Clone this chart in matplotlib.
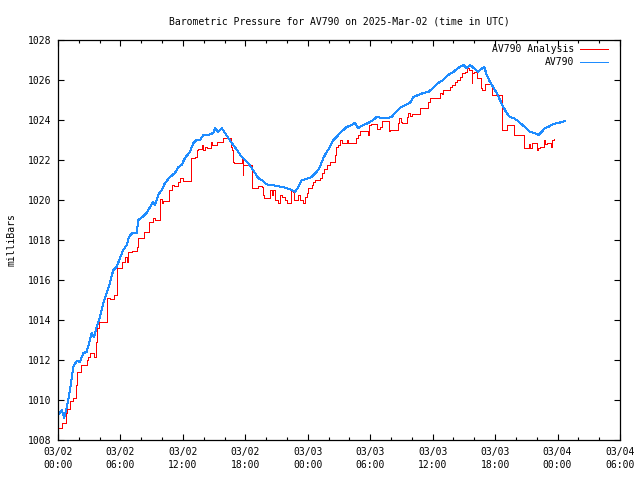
import matplotlib
matplotlib.use("Agg")
import matplotlib.pyplot as plt
from matplotlib.ticker import MultipleLocator

# ---- data (hours since 2025-03-02 00:00 UTC, pressure in mBar) ----
av790_t = [0.02, 0.35, 0.60, 0.93, 1.15, 1.47, 1.79, 2.11, 2.43, 2.75,
           3.07, 3.23, 3.48, 3.71, 4.03, 4.35, 4.68, 4.99, 5.31, 5.64,
           5.95, 6.27, 6.60, 6.82, 7.14, 7.56, 7.71, 8.10, 8.52, 8.84,
           9.15, 9.32, 9.63, 9.96, 10.28, 10.76, 11.24, 11.56, 11.88, 12.20,
           12.68, 13.00, 13.32, 13.64, 13.96, 14.44, 14.92, 15.08, 15.40, 15.73,
           16.04, 16.36, 16.69, 17.00, 17.32, 17.65, 17.96, 18.28, 18.61, 18.93,
           19.24, 19.57, 19.89, 20.20, 20.53, 21.01, 21.49, 21.97, 22.45, 22.77,
           23.09, 23.41, 23.89, 24.37, 24.85, 25.17, 25.49, 25.82, 26.13, 26.45,
           26.78, 27.09, 27.41, 27.74, 28.22, 28.53, 28.85, 29.33, 29.81, 30.29,
           30.62, 31.10, 31.58, 32.06, 32.38, 32.86, 33.34, 33.82, 34.14, 34.62,
           35.10, 35.58, 36.06, 36.54, 37.02, 37.50, 37.98, 38.46, 38.94, 39.27,
           39.58, 40.07, 40.38, 40.55, 40.96, 41.19, 41.51, 41.82, 42.15, 42.47,
           42.79, 43.11, 43.43, 43.75, 44.07, 44.39, 44.87, 45.35, 45.83, 46.15,
           46.47, 46.79, 47.11, 47.59, 48.07, 48.40, 48.71]
av790_p = [1009.25, 1009.5, 1009.1, 1009.85, 1010.5, 1011.65, 1011.95, 1011.9, 1012.35, 1012.4,
           1013.0, 1013.35, 1013.15, 1013.65, 1014.15, 1014.85, 1015.35, 1015.85, 1016.5, 1016.65,
           1017.1, 1017.5, 1017.75, 1018.15, 1018.35, 1018.35, 1019.0, 1019.15, 1019.35, 1019.65,
           1019.9, 1019.75, 1020.25, 1020.5, 1020.85, 1021.15, 1021.35, 1021.65, 1021.75, 1022.1,
           1022.4, 1022.85, 1023.0, 1023.0, 1023.25, 1023.25, 1023.35, 1023.6, 1023.4, 1023.6,
           1023.35, 1023.1, 1022.85, 1022.65, 1022.4, 1022.15, 1022.0, 1021.85, 1021.6, 1021.35,
           1021.1, 1021.0, 1020.85, 1020.75, 1020.75, 1020.7, 1020.65, 1020.6, 1020.5, 1020.4,
           1020.65, 1021.0, 1021.05, 1021.15, 1021.4, 1021.65, 1022.1, 1022.4, 1022.65, 1023.0,
           1023.15, 1023.35, 1023.5, 1023.65, 1023.75, 1023.85, 1023.6, 1023.75, 1023.85, 1024.0,
           1024.15, 1024.1, 1024.1, 1024.15, 1024.35, 1024.6, 1024.75, 1024.85, 1025.15, 1025.25,
           1025.35, 1025.4, 1025.6, 1025.85, 1026.0, 1026.25, 1026.4, 1026.6, 1026.75, 1026.6,
           1026.75, 1026.55, 1026.4, 1026.5, 1026.65, 1026.25, 1025.9, 1025.65, 1025.35, 1025.0,
           1024.65, 1024.35, 1024.15, 1024.1, 1024.0, 1023.85, 1023.65, 1023.4, 1023.35, 1023.25,
           1023.4, 1023.6, 1023.65, 1023.8, 1023.85, 1023.9, 1023.95]

analysis_t = [0.0, 0.35, 0.76, 0.90, 1.15, 1.44, 1.73, 1.79, 2.18, 2.78, 2.93, 3.07, 3.50, 3.65,
              3.71, 3.96, 4.68, 4.99, 5.41, 5.64, 6.12, 6.43, 6.60, 6.75, 7.08, 7.56, 7.71, 8.29,
              8.77, 9.15, 9.32, 9.80, 9.96, 10.13, 10.69, 10.92, 11.14, 11.56, 11.72, 12.01, 12.75,
              13.21, 13.32, 13.45, 13.80, 13.96, 14.12, 14.28, 14.67, 14.77, 15.25, 15.85, 16.59,
              16.69, 16.78, 16.91, 17.65, 17.74, 17.82, 18.68, 19.24, 19.57, 19.66, 19.79, 20.37,
              20.53, 20.65, 20.84, 21.11, 21.33, 21.52, 21.81, 21.97, 22.38, 22.58, 22.70, 23.09,
              23.25, 23.57, 23.73, 23.89, 24.05, 24.37, 24.53, 24.69, 25.17, 25.33, 25.59, 25.82,
              26.13, 26.61, 26.71, 26.93, 27.09, 27.25, 27.74, 27.84, 28.60, 28.85, 29.01, 29.81,
              29.88, 30.12, 30.62, 30.94, 31.10, 31.83, 31.90, 32.64, 32.79, 32.91, 33.02, 33.50,
              33.66, 33.82, 33.98, 34.78, 35.58, 35.74, 36.70, 36.85, 37.02, 37.66, 37.83, 38.14,
              38.36, 38.62, 38.79, 39.11, 39.27, 39.52, 39.75, 39.81, 39.97, 40.23, 40.64, 40.77,
              41.03, 41.72, 42.68, 43.11, 43.84, 44.80, 45.25, 45.35, 45.51, 45.99, 46.12, 46.31,
              46.72, 46.79, 46.95, 47.36, 47.49, 47.65]
analysis_p = [1008.6, 1008.85, 1009.35, 1009.55, 1009.95, 1010.1, 1010.75, 1011.4, 1011.75, 1012.0,
              1012.15, 1012.35, 1012.15, 1012.9, 1013.6, 1013.9, 1015.1, 1015.05, 1015.25, 1016.6,
              1016.9, 1017.15, 1016.9, 1017.4, 1017.45, 1017.65, 1018.1, 1018.4, 1018.9, 1019.1,
              1019.0, 1020.05, 1019.85, 1019.95, 1020.5, 1020.75, 1020.7, 1020.9, 1021.1, 1020.95,
              1022.1, 1022.15, 1022.5, 1022.55, 1022.75, 1022.5, 1022.65, 1022.6, 1022.9, 1022.75,
              1022.9, 1023.1, 1022.65, 1022.5, 1021.9, 1021.85, 1022.1, 1021.25, 1021.75, 1020.6,
              1020.7, 1020.65, 1020.25, 1020.1, 1020.5, 1020.25, 1020.5, 1020.0, 1019.85, 1020.25,
              1020.15, 1020.0, 1019.85, 1020.5, 1020.4, 1020.0, 1020.25, 1020.0, 1019.85, 1020.15,
              1020.35, 1020.6, 1020.75, 1020.9, 1021.0, 1021.1, 1021.35, 1021.55, 1021.75, 1021.9,
              1022.25, 1022.65, 1022.75, 1023.0, 1022.85, 1023.0, 1022.85, 1023.1, 1023.25, 1023.45,
              1023.25, 1023.75, 1023.8, 1023.55, 1023.65, 1023.95, 1023.45, 1023.5, 1023.85, 1024.1,
              1023.9, 1023.85, 1024.15, 1024.35, 1024.2, 1024.3, 1024.6, 1024.9, 1025.1, 1025.35,
              1025.3, 1025.5, 1025.65, 1025.75, 1025.9, 1026.0, 1026.15, 1026.35, 1026.4, 1026.6,
              1026.5, 1025.85, 1026.35, 1026.4, 1026.1, 1025.6, 1025.5, 1025.8, 1025.25, 1023.5,
              1023.75, 1023.25, 1022.6, 1022.8, 1022.6, 1022.85, 1022.5, 1022.6, 1022.65, 1023.0,
              1022.8, 1022.85, 1022.65, 1023.0, 1023.05]

tick_hours = [0, 6, 12, 18, 24, 30, 36, 42, 48, 54]
tick_labels = ["03/02\n00:00", "03/02\n06:00", "03/02\n12:00", "03/02\n18:00",
               "03/03\n00:00", "03/03\n06:00", "03/03\n12:00", "03/03\n18:00",
               "03/04\n00:00", "03/04\n06:00"]
y_ticks = [1008, 1010, 1012, 1014, 1016, 1018, 1020, 1022, 1024, 1026, 1028]

FONT = "DejaVu Sans Mono"
FS = 7

fig = plt.figure(figsize=(6.4, 4.8), dpi=100)
ax = fig.add_axes([58 / 640, 40 / 480, 562 / 640, 400 / 480])

ax.plot(analysis_t, analysis_p, color="#ff0000", lw=0.72, drawstyle="steps-post",
        antialiased=False, label="AV790 Analysis")
ax.plot(av790_t, av790_p, color="#1e8cff", lw=0.72, antialiased=False, label="AV790")

ax.set_xlim(0, 54)
ax.set_ylim(1008, 1028)
ax.set_xticks(tick_hours)
ax.set_xticklabels(tick_labels, fontfamily=FONT, fontsize=FS, linespacing=1.35)
ax.xaxis.set_minor_locator(MultipleLocator(2))
ax.set_yticks(y_ticks)
ax.set_yticklabels([str(v) for v in y_ticks], fontfamily=FONT, fontsize=FS)

ax.tick_params(which="both", direction="in", top=True, right=True, width=0.8, color="black")
ax.tick_params(which="major", length=4, pad=5)
ax.tick_params(which="minor", length=2.5)
for s in ax.spines.values():
    s.set_linewidth(0.9)
    s.set_color("black")

ax.set_ylabel("milliBars", fontfamily=FONT, fontsize=FS, labelpad=8)
ax.set_title("Barometric Pressure for AV790 on 2025-Mar-02 (time in UTC)",
             fontfamily=FONT, fontsize=FS, pad=11)

leg = ax.legend(loc="upper right", bbox_to_anchor=(0.979, 0.99), frameon=False,
                markerfirst=False, handlelength=2.9, handletextpad=0.6,
                labelspacing=0.35, borderpad=0, borderaxespad=0,
                prop={"family": FONT, "size": FS})

fig.savefig("out.png", dpi=100)
